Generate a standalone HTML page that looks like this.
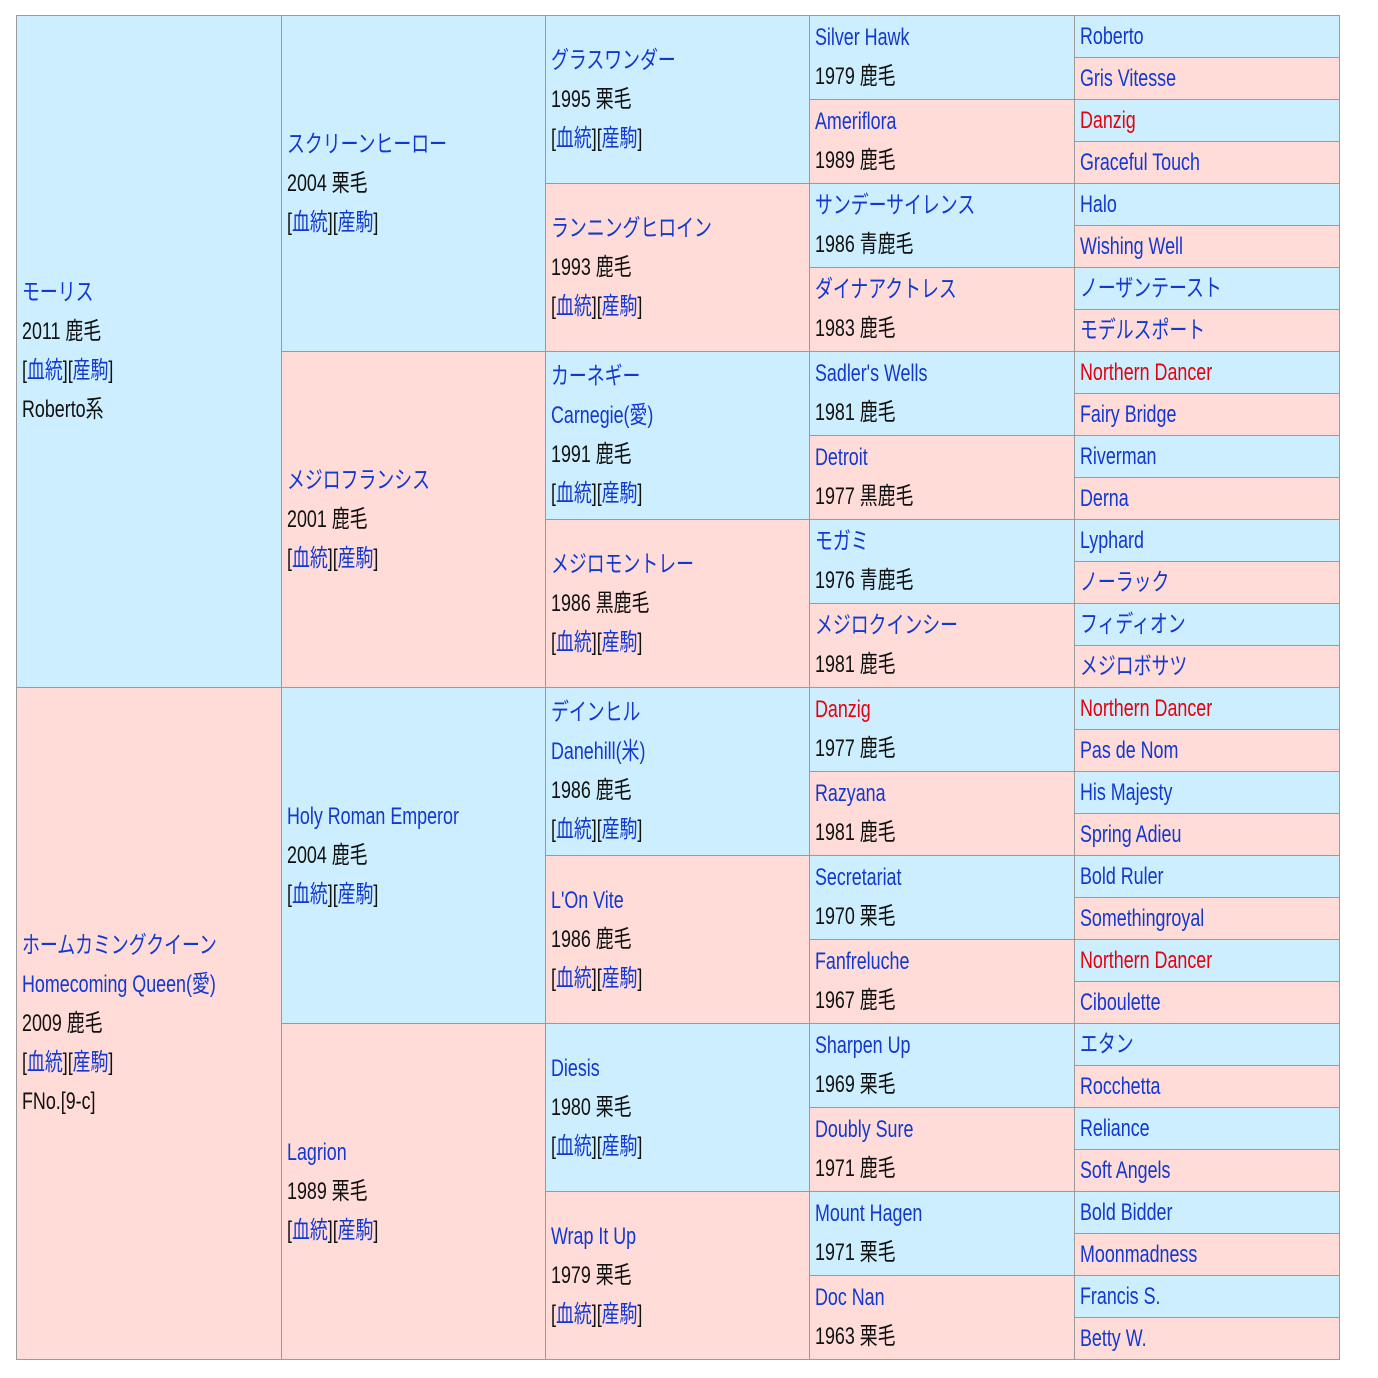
<!DOCTYPE html><html><head><meta charset="utf-8"><style>
body{margin:0;background:#fff;width:1378px;height:1378px;position:relative;overflow:hidden;font-family:"Liberation Sans","Noto Sans CJK JP",sans-serif;font-size:24px;color:#111}
.c{position:absolute;box-sizing:border-box;border:1px solid #9a9a9a;display:flex;align-items:center;padding-left:5px;overflow:hidden}
.b{background:#cceeff}.p{background:#ffdcd7}
.w{transform:scaleX(.745);transform-origin:left center;white-space:nowrap;line-height:39px;margin-top:-1px}
a{color:#1238d0;text-decoration:none}.r{color:#e8000b}
.o{position:absolute;left:16px;top:15px;width:1324px;height:1345px;border:1px solid #9a9a9a;box-sizing:border-box;pointer-events:none}
</style></head><body>
<div class="c b" style="left:16px;top:15px;width:266px;height:673px"><div class="w"><div><a>モーリス</a></div><div>2011 鹿毛</div><div>[<a>血統</a>][<a>産駒</a>]</div><div>Roberto系</div></div></div>
<div class="c p" style="left:16px;top:687px;width:266px;height:673px"><div class="w"><div><a>ホームカミングクイーン</a></div><div><a>Homecoming Queen(愛)</a></div><div>2009 鹿毛</div><div>[<a>血統</a>][<a>産駒</a>]</div><div>FNo.[9-c]</div></div></div>

<div class="c b" style="left:281px;top:15px;width:265px;height:337px"><div class="w"><div><a>スクリーンヒーロー</a></div><div>2004 栗毛</div><div>[<a>血統</a>][<a>産駒</a>]</div></div></div>
<div class="c p" style="left:281px;top:351px;width:265px;height:337px"><div class="w"><div><a>メジロフランシス</a></div><div>2001 鹿毛</div><div>[<a>血統</a>][<a>産駒</a>]</div></div></div>
<div class="c b" style="left:281px;top:687px;width:265px;height:337px"><div class="w"><div><a>Holy Roman Emperor</a></div><div>2004 鹿毛</div><div>[<a>血統</a>][<a>産駒</a>]</div></div></div>
<div class="c p" style="left:281px;top:1023px;width:265px;height:337px"><div class="w"><div><a>Lagrion</a></div><div>1989 栗毛</div><div>[<a>血統</a>][<a>産駒</a>]</div></div></div>

<div class="c b" style="left:545px;top:15px;width:265px;height:169px"><div class="w"><div><a>グラスワンダー</a></div><div>1995 栗毛</div><div>[<a>血統</a>][<a>産駒</a>]</div></div></div>
<div class="c p" style="left:545px;top:183px;width:265px;height:169px"><div class="w"><div><a>ランニングヒロイン</a></div><div>1993 鹿毛</div><div>[<a>血統</a>][<a>産駒</a>]</div></div></div>
<div class="c b" style="left:545px;top:351px;width:265px;height:169px"><div class="w"><div><a>カーネギー</a></div><div><a>Carnegie(愛)</a></div><div>1991 鹿毛</div><div>[<a>血統</a>][<a>産駒</a>]</div></div></div>
<div class="c p" style="left:545px;top:519px;width:265px;height:169px"><div class="w"><div><a>メジロモントレー</a></div><div>1986 黒鹿毛</div><div>[<a>血統</a>][<a>産駒</a>]</div></div></div>
<div class="c b" style="left:545px;top:687px;width:265px;height:169px"><div class="w"><div><a>デインヒル</a></div><div><a>Danehill(米)</a></div><div>1986 鹿毛</div><div>[<a>血統</a>][<a>産駒</a>]</div></div></div>
<div class="c p" style="left:545px;top:855px;width:265px;height:169px"><div class="w"><div><a>L'On Vite</a></div><div>1986 鹿毛</div><div>[<a>血統</a>][<a>産駒</a>]</div></div></div>
<div class="c b" style="left:545px;top:1023px;width:265px;height:169px"><div class="w"><div><a>Diesis</a></div><div>1980 栗毛</div><div>[<a>血統</a>][<a>産駒</a>]</div></div></div>
<div class="c p" style="left:545px;top:1191px;width:265px;height:169px"><div class="w"><div><a>Wrap It Up</a></div><div>1979 栗毛</div><div>[<a>血統</a>][<a>産駒</a>]</div></div></div>

<div class="c b" style="left:809px;top:15px;width:266px;height:85px"><div class="w"><div><a>Silver Hawk</a></div><div>1979 鹿毛</div></div></div>
<div class="c p" style="left:809px;top:99px;width:266px;height:85px"><div class="w"><div><a>Ameriflora</a></div><div>1989 鹿毛</div></div></div>
<div class="c b" style="left:809px;top:183px;width:266px;height:85px"><div class="w"><div><a>サンデーサイレンス</a></div><div>1986 青鹿毛</div></div></div>
<div class="c p" style="left:809px;top:267px;width:266px;height:85px"><div class="w"><div><a>ダイナアクトレス</a></div><div>1983 鹿毛</div></div></div>
<div class="c b" style="left:809px;top:351px;width:266px;height:85px"><div class="w"><div><a>Sadler's Wells</a></div><div>1981 鹿毛</div></div></div>
<div class="c p" style="left:809px;top:435px;width:266px;height:85px"><div class="w"><div><a>Detroit</a></div><div>1977 黒鹿毛</div></div></div>
<div class="c b" style="left:809px;top:519px;width:266px;height:85px"><div class="w"><div><a>モガミ</a></div><div>1976 青鹿毛</div></div></div>
<div class="c p" style="left:809px;top:603px;width:266px;height:85px"><div class="w"><div><a>メジロクインシー</a></div><div>1981 鹿毛</div></div></div>
<div class="c b" style="left:809px;top:687px;width:266px;height:85px"><div class="w"><div><a class="r">Danzig</a></div><div>1977 鹿毛</div></div></div>
<div class="c p" style="left:809px;top:771px;width:266px;height:85px"><div class="w"><div><a>Razyana</a></div><div>1981 鹿毛</div></div></div>
<div class="c b" style="left:809px;top:855px;width:266px;height:85px"><div class="w"><div><a>Secretariat</a></div><div>1970 栗毛</div></div></div>
<div class="c p" style="left:809px;top:939px;width:266px;height:85px"><div class="w"><div><a>Fanfreluche</a></div><div>1967 鹿毛</div></div></div>
<div class="c b" style="left:809px;top:1023px;width:266px;height:85px"><div class="w"><div><a>Sharpen Up</a></div><div>1969 栗毛</div></div></div>
<div class="c p" style="left:809px;top:1107px;width:266px;height:85px"><div class="w"><div><a>Doubly Sure</a></div><div>1971 鹿毛</div></div></div>
<div class="c b" style="left:809px;top:1191px;width:266px;height:85px"><div class="w"><div><a>Mount Hagen</a></div><div>1971 栗毛</div></div></div>
<div class="c p" style="left:809px;top:1275px;width:266px;height:85px"><div class="w"><div><a>Doc Nan</a></div><div>1963 栗毛</div></div></div>

<div class="c b" style="left:1074px;top:15px;width:266px;height:43px"><div class="w"><a>Roberto</a></div></div>
<div class="c p" style="left:1074px;top:57px;width:266px;height:43px"><div class="w"><a>Gris Vitesse</a></div></div>
<div class="c b" style="left:1074px;top:99px;width:266px;height:43px"><div class="w"><a class="r">Danzig</a></div></div>
<div class="c p" style="left:1074px;top:141px;width:266px;height:43px"><div class="w"><a>Graceful Touch</a></div></div>
<div class="c b" style="left:1074px;top:183px;width:266px;height:43px"><div class="w"><a>Halo</a></div></div>
<div class="c p" style="left:1074px;top:225px;width:266px;height:43px"><div class="w"><a>Wishing Well</a></div></div>
<div class="c b" style="left:1074px;top:267px;width:266px;height:43px"><div class="w"><a>ノーザンテースト</a></div></div>
<div class="c p" style="left:1074px;top:309px;width:266px;height:43px"><div class="w"><a>モデルスポート</a></div></div>
<div class="c b" style="left:1074px;top:351px;width:266px;height:43px"><div class="w"><a class="r">Northern Dancer</a></div></div>
<div class="c p" style="left:1074px;top:393px;width:266px;height:43px"><div class="w"><a>Fairy Bridge</a></div></div>
<div class="c b" style="left:1074px;top:435px;width:266px;height:43px"><div class="w"><a>Riverman</a></div></div>
<div class="c p" style="left:1074px;top:477px;width:266px;height:43px"><div class="w"><a>Derna</a></div></div>
<div class="c b" style="left:1074px;top:519px;width:266px;height:43px"><div class="w"><a>Lyphard</a></div></div>
<div class="c p" style="left:1074px;top:561px;width:266px;height:43px"><div class="w"><a>ノーラック</a></div></div>
<div class="c b" style="left:1074px;top:603px;width:266px;height:43px"><div class="w"><a>フィディオン</a></div></div>
<div class="c p" style="left:1074px;top:645px;width:266px;height:43px"><div class="w"><a>メジロボサツ</a></div></div>
<div class="c b" style="left:1074px;top:687px;width:266px;height:43px"><div class="w"><a class="r">Northern Dancer</a></div></div>
<div class="c p" style="left:1074px;top:729px;width:266px;height:43px"><div class="w"><a>Pas de Nom</a></div></div>
<div class="c b" style="left:1074px;top:771px;width:266px;height:43px"><div class="w"><a>His Majesty</a></div></div>
<div class="c p" style="left:1074px;top:813px;width:266px;height:43px"><div class="w"><a>Spring Adieu</a></div></div>
<div class="c b" style="left:1074px;top:855px;width:266px;height:43px"><div class="w"><a>Bold Ruler</a></div></div>
<div class="c p" style="left:1074px;top:897px;width:266px;height:43px"><div class="w"><a>Somethingroyal</a></div></div>
<div class="c b" style="left:1074px;top:939px;width:266px;height:43px"><div class="w"><a class="r">Northern Dancer</a></div></div>
<div class="c p" style="left:1074px;top:981px;width:266px;height:43px"><div class="w"><a>Ciboulette</a></div></div>
<div class="c b" style="left:1074px;top:1023px;width:266px;height:43px"><div class="w"><a>エタン</a></div></div>
<div class="c p" style="left:1074px;top:1065px;width:266px;height:43px"><div class="w"><a>Rocchetta</a></div></div>
<div class="c b" style="left:1074px;top:1107px;width:266px;height:43px"><div class="w"><a>Reliance</a></div></div>
<div class="c p" style="left:1074px;top:1149px;width:266px;height:43px"><div class="w"><a>Soft Angels</a></div></div>
<div class="c b" style="left:1074px;top:1191px;width:266px;height:43px"><div class="w"><a>Bold Bidder</a></div></div>
<div class="c p" style="left:1074px;top:1233px;width:266px;height:43px"><div class="w"><a>Moonmadness</a></div></div>
<div class="c b" style="left:1074px;top:1275px;width:266px;height:43px"><div class="w"><a>Francis S.</a></div></div>
<div class="c p" style="left:1074px;top:1317px;width:266px;height:43px"><div class="w"><a>Betty W.</a></div></div>
<div class="o"></div>
</body></html>
